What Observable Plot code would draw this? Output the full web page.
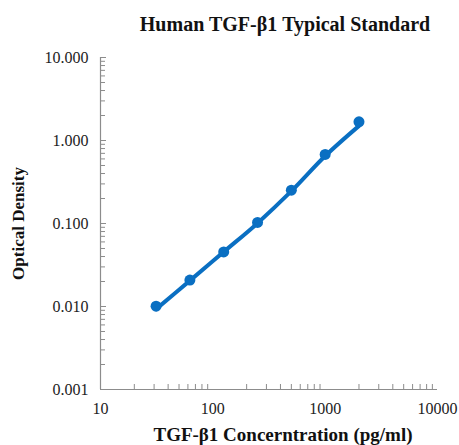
<!DOCTYPE html>
<html><head><meta charset="utf-8">
<script src="https://cdn.jsdelivr.net/npm/d3@7"></script>
<script src="https://cdn.jsdelivr.net/npm/@observablehq/plot@0.6"></script>
<style>body{margin:0;background:#fff}</style>
</head><body><div id="chart"></div>
<script>
const concentration = [31.25, 62.5, 125, 250, 500, 1000, 2000];
const od = [0.0101, 0.0208, 0.0455, 0.103, 0.252, 0.68, 1.68];
const fitOd = [0.0093, 0.0205, 0.0455, 0.101, 0.245, 0.65, 1.5];
const xMajor = [10, 100, 1000, 10000];
const yMajor = [0.001, 0.01, 0.1, 1, 10];
const title = "Human TGF-β1 Typical Standard";
const xLabel = "TGF-β1 Concerntration (pg/ml)";
const yLabel = "Optical Density";

const pts = concentration.map((c, i) => ({c, od: od[i]}));
const fit = concentration.map((c, i) => ({c, od: fitOd[i]}));
const minor = (majors) => majors.slice(0, -1).flatMap(m => d3.range(2, 10).map(k => m * k));
const xMinor = minor(xMajor);
const yMinor = minor(yMajor);
const blue = "#0a6fc2";
const axisGray = "#8c8c8c";
const font = "Liberation Serif, Times New Roman, serif";

const chart = Plot.plot({
  width: 459, height: 445,
  marginLeft: 100, marginRight: 22, marginTop: 57, marginBottom: 56,
  style: {fontFamily: font, fontSize: "16px", color: "#222", background: "#fff"},
  x: {type: "log", domain: [10, 10000], label: null},
  y: {type: "log", domain: [0.001, 10], label: null},
  marks: [
    Plot.axisX(xMinor, {tickSize: -5, text: null, stroke: axisGray, label: null}),
    Plot.axisX(xMajor, {tickSize: 0, tickPadding: 13, tickFormat: d3.format("d"), fontSize: 16, label: null}),
    Plot.axisY(yMinor, {tickSize: -5, text: null, stroke: axisGray, label: null}),
    Plot.axisY(yMajor, {tickSize: -6, stroke: axisGray, tickPadding: 18, tickFormat: d3.format(".3f"), fontSize: 16, label: null}),
    Plot.ruleX([10], {stroke: axisGray, strokeWidth: 1.2}),
    Plot.ruleY([0.001], {stroke: axisGray, strokeWidth: 1.2}),
    Plot.line(fit, {x: "c", y: "od", stroke: blue, strokeWidth: 4, curve: "catmull-rom"}),
    Plot.dot(pts, {x: "c", y: "od", r: 5.5, fill: blue}),
    Plot.text([title], {frameAnchor: "top", dx: 16, dy: -33, fontWeight: "bold", fontSize: 20, fill: "#111", lineAnchor: "middle"}),
    Plot.text([xLabel], {frameAnchor: "bottom", dy: 45, fontWeight: "bold", fontSize: 19, fill: "#111", lineAnchor: "middle", dx: 14}),
    Plot.text([yLabel], {frameAnchor: "left", dx: -82, rotate: -90, textAnchor: "middle", fontWeight: "bold", fontSize: 17, fill: "#111", lineAnchor: "middle"})
  ]
});
document.getElementById("chart").append(chart);
</script>
</body></html>
